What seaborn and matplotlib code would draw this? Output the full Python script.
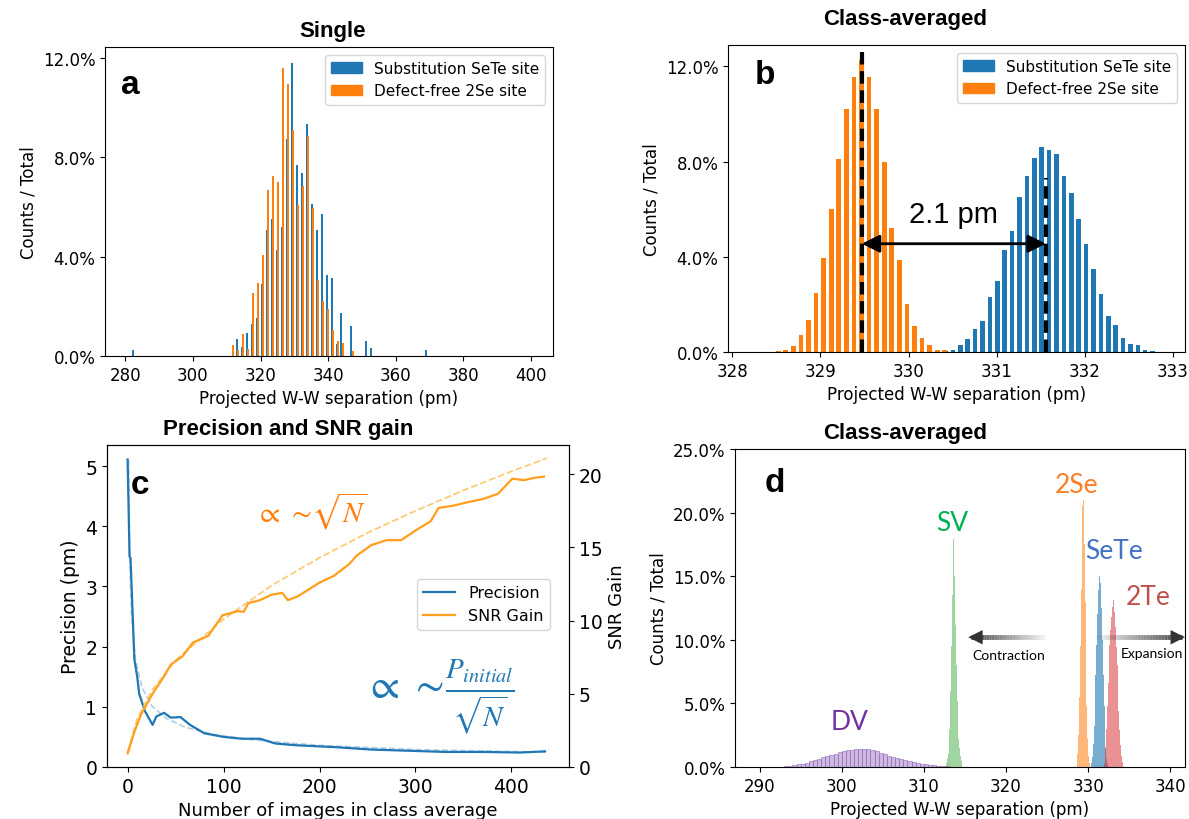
import numpy as np
import pandas as pd
import matplotlib
matplotlib.use("Agg")
import matplotlib.pyplot as plt
import seaborn as sns
from matplotlib.ticker import PercentFormatter
from matplotlib.patches import Patch
from matplotlib.lines import Line2D

# -------------------------
# data
# -------------------------
# a: single-image histograms, percent per bin
a_bin = 1.47
a_blue_start = 282.2
a_blue_pct = ([0.24] + [0] * 20 +
              [0.69, 0.35, 0.94, 1.29, 1.52, 2.91, 5.09, 5.51, 4.28, 5.2,
               8.74, 11.8, 7.69, 7.39, 9.35, 6.14, 5.06, 5.71, 3.27, 3.14,
               0.5, 1.72, 0, 1.2, 0, 0, 0.6, 0.31] + [0] * 10 + [0.24])
a_orange_start = 312.0
a_orange_pct = [0.44, 0.24, 0.89, 0.30, 2.53, 2.94, 4.05, 6.68, 7.27, 7.02,
                11.6, 10.95, 9.1, 6.07, 6.84, 8.86, 5.97, 3.07, 2.2, 1.9,
                1.05, 0.62, 0.51, 0, 0.2]

# b: class-averaged histograms
b_orange_start, b_orange_bin = 328.52, 0.086
b_orange_pct = [0.03, 0.07, 0.25, 0.7, 1.33, 2.5, 3.95, 6.0, 8.1, 10.2, 11.55,
                12.25, 11.55, 10.2, 8.0, 5.2, 3.85, 2.0, 1.1, 0.6, 0.3, 0.08, 0.07]
b_blue_start, b_blue_bin = 330.42, 0.084
b_blue_pct = [0.03, 0.07, 0.3, 0.55, 0.95, 1.3, 2.3, 3.0, 4.3, 5.1, 6.5, 7.4,
              8.15, 8.6, 8.5, 8.3, 7.4, 6.7, 5.6, 4.55, 3.5, 2.45, 1.5, 1.15,
              0.6, 0.35, 0.3, 0.07, 0.03, 0.02]
b_mean_2se, b_mean_sete = 329.47, 331.56

# c: precision and SNR gain vs number of images
prec_n = [0, 2, 3, 5, 7, 10, 12, 18, 26, 30, 38, 45, 55, 65, 80, 100, 119,
          138, 154, 177, 216, 254, 293, 332, 371, 409, 435]
prec_pm = [5.11, 3.5, 3.47, 2.64, 1.79, 1.50, 1.22, 0.93, 0.70, 0.84, 0.90,
           0.82, 0.83, 0.70, 0.56, 0.50, 0.47, 0.47, 0.39, 0.36, 0.33, 0.29,
           0.27, 0.25, 0.25, 0.24, 0.26]
prec_fit_n = [1, 2, 4, 8, 15, 25, 40, 60, 90, 130, 200, 300, 437]
prec_fit = [5.1, 3.6, 2.55, 1.8, 1.32, 1.02, 0.81, 0.66, 0.54, 0.45, 0.36,
            0.29, 0.245]
snr_n = [0, 7, 14, 26, 38, 45, 57, 68, 84, 99, 115, 121, 126, 138, 150, 161,
         167, 177, 188, 200, 215, 231, 239, 254, 270, 285, 301, 316, 324, 339,
         355, 370, 386, 401, 413, 425, 434]
snr_gain = [0.94, 2.4, 3.6, 5.0, 6.2, 7.0, 7.55, 8.5, 8.96, 10.37, 10.65,
            10.6, 11.2, 11.4, 11.77, 11.9, 11.4, 11.65, 12.1, 12.6, 13.06,
            13.87, 14.46, 15.16, 15.5, 15.5, 16.2, 16.8, 17.7, 17.85, 18.1,
            18.3, 18.67, 19.7, 19.6, 19.77, 19.84]
snr_fit_n = [0, 10, 25, 50, 100, 150, 200, 250, 300, 350, 400, 437]
snr_fit = [1.0, 3.3, 5.2, 7.3, 10.1, 12.4, 14.3, 16.0, 17.5, 18.9, 20.2, 21.1]

# d: class-averaged histograms of all site types
dv_start, dv_bin = 292.75, 0.5
dv_pct = [0.03, 0.06, 0.10, 0.15, 0.20, 0.27, 0.35, 0.45, 0.55, 0.65, 0.75,
          0.85, 0.95, 1.05, 1.15, 1.22, 1.30, 1.35, 1.38, 1.42, 1.44, 1.40,
          1.33, 1.22, 1.10, 1.00, 0.90, 0.80, 0.70, 0.60, 0.52, 0.45, 0.38,
          0.32, 0.27, 0.22, 0.18, 0.14, 0.10, 0.07, 0.04]
sv_start, sv_bin = 312.75, 0.1
sv_pct = [0.3, 0.7, 1.1, 2.0, 3.0, 6.0, 9.5, 13.5, 16.8, 17.9, 15.0, 11.2,
          8.0, 5.2, 3.4, 2.2, 1.5, 0.9, 0.5, 0.2]
se2_start, se2_bin = 328.65, 0.1
se2_pct = [0.3, 1.0, 2.5, 5.5, 9.5, 14.0, 18.0, 20.5, 21.0, 17.5, 13.0, 8.5,
           4.8, 2.3, 0.9, 0.3]
sete_start, sete_bin = 330.45, 0.1
sete_pct = [0.3, 0.8, 1.8, 3.2, 5.0, 7.2, 9.6, 12.0, 13.9, 15.0, 15.3, 14.5,
            12.5, 10.0, 7.2, 4.8, 2.8, 1.4, 0.6, 0.2]
te2_start, te2_bin = 331.95, 0.1
te2_pct = [0.3, 0.8, 1.6, 3.0, 4.8, 6.6, 8.2, 9.6, 10.8, 11.8, 12.6, 13.1,
           12.9, 12.2, 11.0, 9.4, 8.0, 6.2, 4.4, 2.9, 1.7, 0.9, 0.4, 0.1]

BLUE = "#1f77b4"
ORANGE = "#ff7f0e"
TITLE_FONT = dict(fontsize=16, fontweight="bold",
                  family=["Liberation Sans", "DejaVu Sans"])
LABEL_FONT = ["Lato", "DejaVu Sans"]


def hist_bars(ax, start, step, pct, color, shrink=1.0, **kw):
    pct = np.asarray(pct, dtype=float)
    df = pd.DataFrame({"sep": start + step * np.arange(len(pct)), "pct": pct})
    lo = start - step / 2
    hi = start + step * (len(pct) - 0.5)
    sns.histplot(data=df, x="sep", weights="pct", binwidth=step,
                 binrange=(lo, hi), ax=ax, color=color, shrink=shrink, **kw)


W, H = 1189, 820
fig = plt.figure(figsize=(W / 100, H / 100), dpi=100)


def add_ax(left, top, right, bottom):
    return fig.add_axes([left / W, 1 - bottom / H, (right - left) / W,
                         (bottom - top) / H])


ax_a = add_ax(105, 48, 553, 357)
ax_b = add_ax(728, 46, 1185, 353)
ax_c = add_ax(107, 446, 569, 768)
ax_d = add_ax(735, 450, 1185, 768)

# =========================
# a. Single
# =========================
hist_bars(ax_a, a_blue_start, a_bin, a_blue_pct, BLUE, shrink=0.4,
          alpha=1, linewidth=0)
hist_bars(ax_a, a_orange_start, a_bin, a_orange_pct, ORANGE, shrink=0.4,
          alpha=1, linewidth=0)
ax_a.set_xlim(274, 406.5)
ax_a.set_ylim(0, 12.45)
ax_a.set_yticks([0, 4, 8, 12])
ax_a.set_xticks(range(280, 401, 20))
ax_a.set_title("Single", x=0.509, pad=8, **TITLE_FONT)

# =========================
# b. Class-averaged
# =========================
hist_bars(ax_b, b_blue_start, b_blue_bin, b_blue_pct, BLUE, shrink=0.62,
          alpha=1, linewidth=0)
hist_bars(ax_b, b_orange_start, b_orange_bin, b_orange_pct, ORANGE,
          shrink=0.62, alpha=1, linewidth=0)
ax_b.plot([b_mean_2se, b_mean_2se], [0, 12.6], color="black", ls="--",
          lw=3, dashes=(3, 1.6))
ax_b.plot([b_mean_sete, b_mean_sete], [0, 7.3], color="black", ls="--",
          lw=3, dashes=(3, 1.6))
ax_b.annotate("", xy=(b_mean_2se, 4.55), xytext=(b_mean_sete, 4.55),
              arrowprops=dict(arrowstyle="<|-|>", color="black", lw=2,
                              mutation_scale=27, shrinkA=0, shrinkB=0))
ax_b.text((b_mean_2se + b_mean_sete) / 2, 5.2, "2.1 pm", fontsize=21,
          ha="center", va="bottom", family=["Liberation Sans", "DejaVu Sans"])
ax_b.set_xlim(327.95, 333.14)
ax_b.set_ylim(0, 12.9)
ax_b.set_yticks([0, 4, 8, 12])
ax_b.set_title("Class-averaged", x=0.387, pad=15, **TITLE_FONT)

for ax in (ax_a, ax_b):
    ax.yaxis.set_major_formatter(PercentFormatter(decimals=1))
    ax.set_xlabel("Projected W-W separation (pm)", fontsize=12)
    ax.set_ylabel("Counts / Total", fontsize=12)
    ax.tick_params(labelsize=12)
    ax.legend(handles=[Patch(color=BLUE, label="Substitution SeTe site"),
                       Patch(color=ORANGE, label="Defect-free 2Se site")],
              loc="upper right", fontsize=11, framealpha=0.8)

# =========================
# c. Precision and SNR gain
# =========================
ax_c2 = ax_c.twinx()
sns.lineplot(x=prec_fit_n, y=prec_fit, ax=ax_c, color=BLUE, lw=1.2,
             ls="--", alpha=0.35)
sns.lineplot(x=prec_n, y=prec_pm, ax=ax_c, color=BLUE, lw=1.6)
sns.lineplot(x=snr_fit_n, y=snr_fit, ax=ax_c2, color="#fdbf50", lw=1.3,
             ls="--", alpha=0.8)
sns.lineplot(x=snr_n, y=snr_gain, ax=ax_c2, color="#ff9f1c", lw=1.6)
ax_c.set_xlim(-21.5, 460)
ax_c.set_ylim(0, 5.35)
ax_c2.set_ylim(0, 22.0)
ax_c.set_xticks(range(0, 401, 100))
ax_c.set_yticks(range(0, 6))
ax_c2.set_yticks(range(0, 21, 5))
ax_c.set_xlabel("Number of images in class average", fontsize=13)
ax_c.set_ylabel("Precision (pm)", fontsize=13.5)
ax_c2.set_ylabel("SNR Gain", fontsize=13)
ax_c.tick_params(labelsize=13.5)
ax_c2.tick_params(labelsize=13.5)
ax_c.set_title("Precision and SNR gain", x=0.392, pad=8, **TITLE_FONT)
ax_c2.legend(handles=[Line2D([], [], color=BLUE, lw=1.6, label="Precision"),
                      Line2D([], [], color="#ff9f1c", lw=1.6, label="SNR Gain")],
             loc="center", bbox_to_anchor=(0.815, 0.505), fontsize=11.5,
             framealpha=0.8)
ax_c.text(133, 4.27, r"$\propto\,\sim\!\sqrt{N}$", color=ORANGE, fontsize=21,
          va="center", math_fontfamily="stix")
ax_c.text(246, 1.19, r"$\propto\,\sim\!\frac{P_{initial}}{\sqrt{N}}$",
          color=BLUE, fontsize=30, va="center", math_fontfamily="stix")

# =========================
# d. Class-averaged, all sites
# =========================
hist_bars(ax_d, dv_start, dv_bin, dv_pct, "#9467bd", alpha=0.45,
          edgecolor="#9467bd", linewidth=0.4)
hist_bars(ax_d, sv_start, sv_bin, sv_pct, "#2ca02c", alpha=0.45,
          element="step", linewidth=0)
hist_bars(ax_d, se2_start, se2_bin, se2_pct, ORANGE, alpha=0.55,
          element="step", linewidth=0)
hist_bars(ax_d, sete_start, sete_bin, sete_pct, BLUE, alpha=0.6,
          element="step", linewidth=0)
hist_bars(ax_d, te2_start, te2_bin, te2_pct, "#d62728", alpha=0.5,
          element="step", linewidth=0)
ax_d.set_xlim(287, 341.8)
ax_d.set_ylim(0, 25)
ax_d.set_yticks(range(0, 26, 5))
ax_d.yaxis.set_major_formatter(PercentFormatter(decimals=1))
ax_d.set_xlabel("Projected W-W separation (pm)", fontsize=12)
ax_d.set_ylabel("Counts / Total", fontsize=12)
ax_d.tick_params(labelsize=12)
ax_d.set_title("Class-averaged", x=0.378, pad=8, **TITLE_FONT)

site_labels = [("DV", 301.0, 3.6, "#7030a0"), ("SV", 313.5, 19.2, "#00b050"),
               ("2Se", 328.6, 22.2, "#ff7f27"), ("SeTe", 333.2, 17.0, "#4472c4"),
               ("2Te", 337.3, 13.4, "#c0504d")]
for name, x, y, col in site_labels:
    ax_d.text(x, y, name, color=col, fontsize=19, ha="center", va="center",
              family=LABEL_FONT)


def grad_arrow(ax, x_tail, x_head, y):
    xs = np.linspace(x_tail, x_head, 31)
    for i in range(29):
        ax.plot(xs[i:i + 2], [y, y], color="#333333", lw=3.5,
                alpha=0.05 + 0.85 * i / 28, solid_capstyle="butt")
    ax.annotate("", xy=(x_head, y), xytext=(xs[-3], y), annotation_clip=False,
                arrowprops=dict(arrowstyle="-|>", color="#333333", lw=0,
                                mutation_scale=26, shrinkA=0, shrinkB=0))


grad_arrow(ax_d, 324.8, 315.4, 10.2)
grad_arrow(ax_d, 330.9, 341.8, 10.2)
ax_d.text(320.3, 8.8, "Contraction", fontsize=10, ha="center", va="center",
          family=LABEL_FONT)
ax_d.text(337.8, 9.0, "Expansion", fontsize=10, ha="center", va="center",
          family=LABEL_FONT)

# panel letters
for ax, lab, x, y in [(ax_a, "a", 0.056, 0.88), (ax_b, "b", 0.08, 0.905),
                      (ax_c, "c", 0.072, 0.878), (ax_d, "d", 0.089, 0.896)]:
    ax.text(x, y, lab, transform=ax.transAxes, fontsize=24,
            fontweight="bold", ha="center", va="center",
            family=["Liberation Sans", "DejaVu Sans"])

fig.savefig("out.png", dpi=100)
